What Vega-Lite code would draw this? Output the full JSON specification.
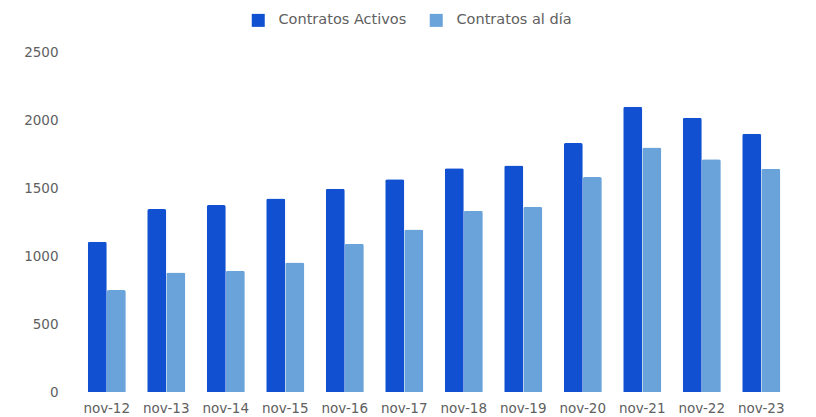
{
  "$schema": "https://vega.github.io/schema/vega-lite/v6.json",
  "autosize": {"type": "none"},
  "width": 714,
  "height": 340,
  "padding": {"left": 77, "top": 52, "right": 25, "bottom": 25},
  "background": "#ffffff",
  "data": {
    "values": [
      {"mes": "nov-12", "serie": "Contratos Activos", "valor": 1105},
      {"mes": "nov-12", "serie": "Contratos al día", "valor": 750},
      {"mes": "nov-13", "serie": "Contratos Activos", "valor": 1345},
      {"mes": "nov-13", "serie": "Contratos al día", "valor": 878},
      {"mes": "nov-14", "serie": "Contratos Activos", "valor": 1375},
      {"mes": "nov-14", "serie": "Contratos al día", "valor": 892},
      {"mes": "nov-15", "serie": "Contratos Activos", "valor": 1422},
      {"mes": "nov-15", "serie": "Contratos al día", "valor": 952},
      {"mes": "nov-16", "serie": "Contratos Activos", "valor": 1495},
      {"mes": "nov-16", "serie": "Contratos al día", "valor": 1090},
      {"mes": "nov-17", "serie": "Contratos Activos", "valor": 1565},
      {"mes": "nov-17", "serie": "Contratos al día", "valor": 1195},
      {"mes": "nov-18", "serie": "Contratos Activos", "valor": 1645},
      {"mes": "nov-18", "serie": "Contratos al día", "valor": 1332},
      {"mes": "nov-19", "serie": "Contratos Activos", "valor": 1665},
      {"mes": "nov-19", "serie": "Contratos al día", "valor": 1362},
      {"mes": "nov-20", "serie": "Contratos Activos", "valor": 1830},
      {"mes": "nov-20", "serie": "Contratos al día", "valor": 1580},
      {"mes": "nov-21", "serie": "Contratos Activos", "valor": 2098},
      {"mes": "nov-21", "serie": "Contratos al día", "valor": 1797},
      {"mes": "nov-22", "serie": "Contratos Activos", "valor": 2017},
      {"mes": "nov-22", "serie": "Contratos al día", "valor": 1712},
      {"mes": "nov-23", "serie": "Contratos Activos", "valor": 1898},
      {"mes": "nov-23", "serie": "Contratos al día", "valor": 1642}
    ]
  },
  "mark": {"type": "bar", "cornerRadiusTopLeft": 2, "cornerRadiusTopRight": 2},
  "encoding": {
    "x": {
      "field": "mes",
      "type": "nominal",
      "sort": null,
      "scale": {"paddingInner": 0.36, "paddingOuter": 0.18},
      "axis": {
        "title": null,
        "labelAngle": 0,
        "domain": false,
        "ticks": false,
        "labelPadding": 9,
        "labelFont": "DejaVu Sans",
        "labelFontSize": 13.5,
        "labelColor": "#606060"
      }
    },
    "xOffset": {"field": "serie", "type": "nominal", "scale": {"paddingInner": 0, "paddingOuter": 0}},
    "y": {
      "field": "valor",
      "type": "quantitative",
      "scale": {"domain": [0, 2500]},
      "axis": {
        "title": null,
        "values": [0, 500, 1000, 1500, 2000, 2500],
        "format": "d",
        "grid": false,
        "domain": false,
        "ticks": false,
        "labelPadding": 19,
        "labelFont": "DejaVu Sans",
        "labelFontSize": 13.5,
        "labelColor": "#606060"
      }
    },
    "color": {
      "field": "serie",
      "type": "nominal",
      "scale": {"domain": ["Contratos Activos", "Contratos al día"], "range": ["#1150d0", "#6aa3d9"]},
      "legend": {
        "title": null,
        "orient": "none",
        "direction": "horizontal",
        "legendX": 174,
        "legendY": -39,
        "symbolType": "square",
        "symbolSize": 169,
        "symbolStrokeWidth": 0,
        "labelFont": "DejaVu Sans",
        "labelFontSize": 14.5,
        "labelColor": "#606060",
        "labelOffset": 13,
        "columnPadding": 22
      }
    }
  },
  "config": {"view": {"stroke": null}}
}
